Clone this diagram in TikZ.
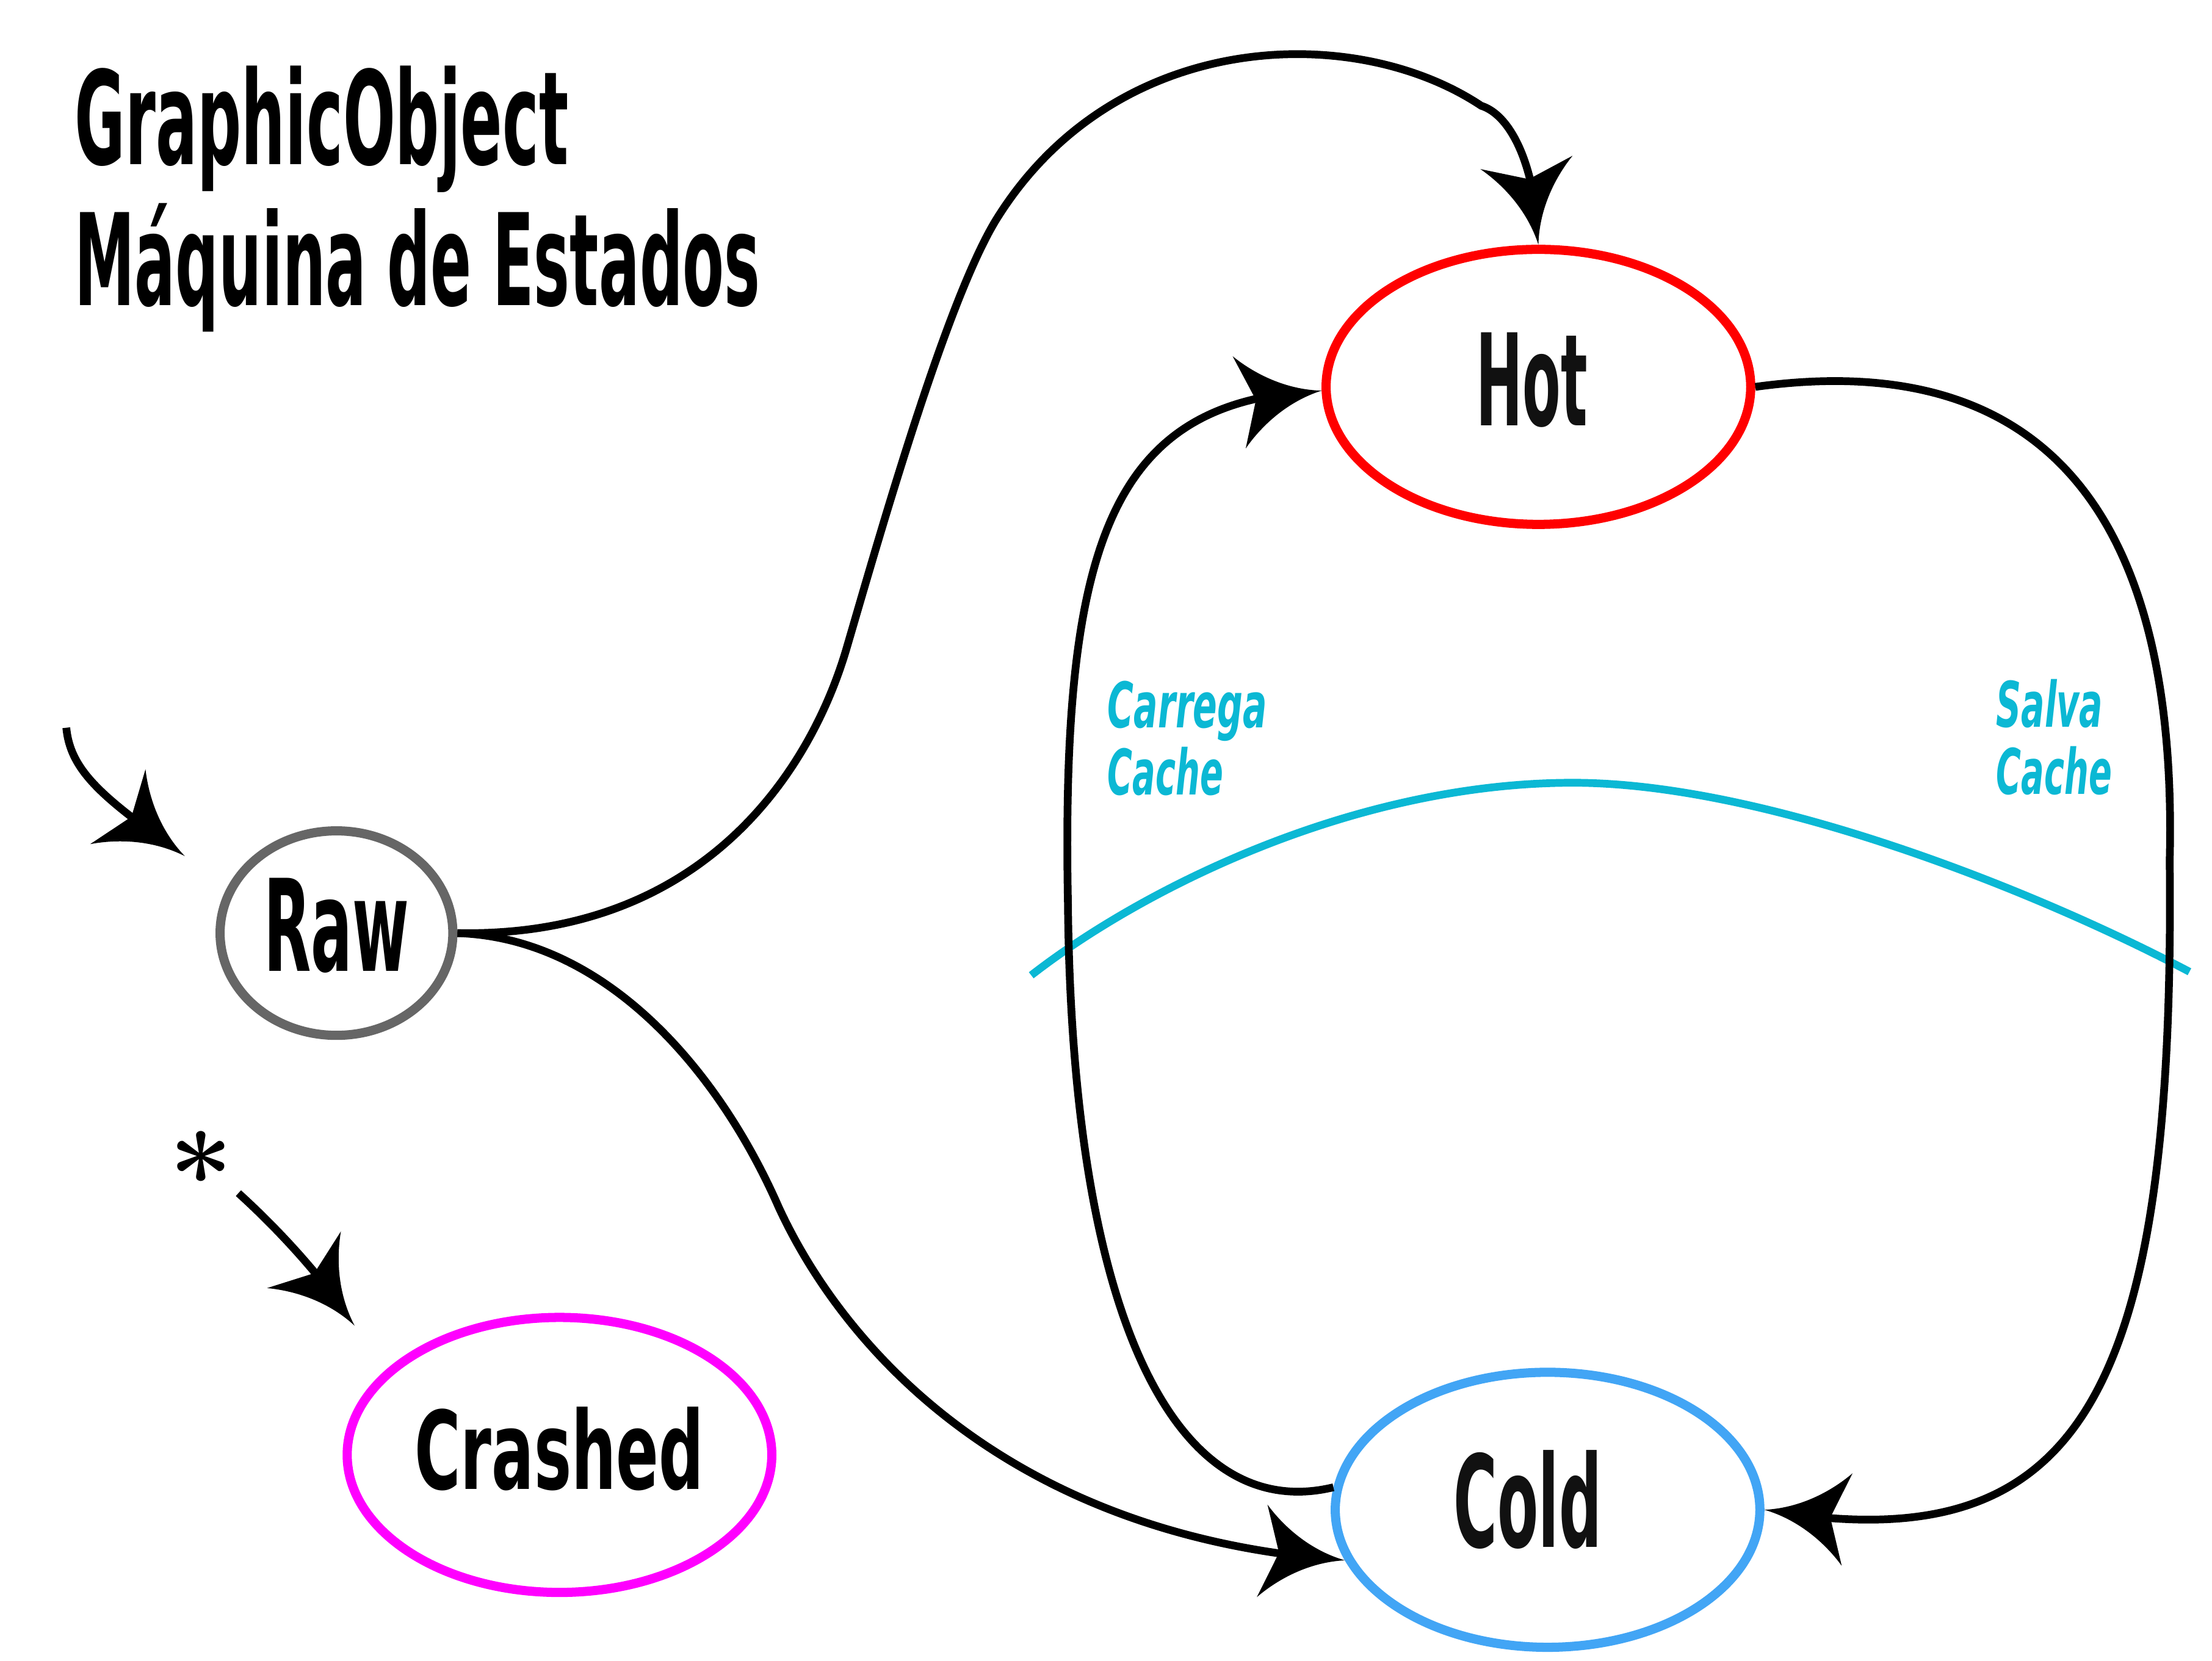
\documentclass[tikz,border=0pt]{standalone}
\usepackage{fontspec}
\usepackage{graphicx}
\usetikzlibrary{shapes.geometric,arrows.meta,bending}
\newfontfamily\dejavu{DejaVu Sans}
\definecolor{rawgray}{HTML}{666666}
\definecolor{hotred}{HTML}{FF0000}
\definecolor{coldblue}{HTML}{42A5F5}
\definecolor{crashmag}{HTML}{FF00FF}
\definecolor{cachecyan}{HTML}{0BB8D4}
\definecolor{nearblack}{HTML}{111111}

\newdimen\cstA \newdimen\cstB \newdimen\cstC
\pgfdeclarearrow{
  name = CStealth,
  defaults = {length=59bp, width=66bp, inset=12bp},
  parameters = {\the\pgfarrowlength,\the\pgfarrowwidth,\the\pgfarrowinset},
  setup code = {
    \pgfarrowssettipend{0pt}
    \cstB=-\pgfarrowlength
    \pgfarrowssetbackend{\cstB}
    \cstA=\cstB \advance\cstA by \pgfarrowinset \advance\cstA by 4bp
    \pgfarrowssetlineend{\cstA}
    \cstC=.5\pgfarrowwidth
    \pgfarrowshullpoint{0pt}{0pt}
    \pgfarrowsupperhullpoint{\cstB}{\cstC}
    \pgfarrowssavethe\pgfarrowlength
    \pgfarrowssavethe\pgfarrowwidth
    \pgfarrowssavethe\pgfarrowinset
  },
  drawing code = {
    \pgfpathmoveto{\pgfpointorigin}
    \pgfpathcurveto{\pgfpoint{-.4\pgfarrowlength}{.06\pgfarrowwidth}}{\pgfpoint{-.75\pgfarrowlength}{.26\pgfarrowwidth}}{\pgfpoint{-\pgfarrowlength}{.5\pgfarrowwidth}}
    \pgfpathlineto{\pgfpoint{-\pgfarrowlength+\pgfarrowinset}{0pt}}
    \pgfpathlineto{\pgfpoint{-\pgfarrowlength}{-.5\pgfarrowwidth}}
    \pgfpathcurveto{\pgfpoint{-.75\pgfarrowlength}{-.26\pgfarrowwidth}}{\pgfpoint{-.4\pgfarrowlength}{-.06\pgfarrowwidth}}{\pgfpointorigin}
    \pgfpathclose
    \pgfusepathqfill
  }
}

\newcommand\bigtxt[3]{\resizebox{#1}{\height}{\fontsize{#2}{#2}\dejavu\bfseries #3}}
\newcommand\cyantxt[2]{\resizebox{#1}{\height}{\fontsize{44.6bp}{44.6bp}\dejavu\bfseries\itshape #2}}

\tikzset{
  stateshape/.style={ellipse, inner sep=0pt, line width=6.5bp, fill=white},
  bigstate/.style={stateshape, minimum width=301bp, minimum height=195bp},
  smallstate/.style={stateshape, minimum width=165bp, minimum height=145bp},
  txt/.style={inner sep=0pt, anchor=base},
  conn/.style={line width=5.5bp, draw=black, -{CStealth[flex]}},
  cyanline/.style={line width=5.5bp, draw=cachecyan},
  cyanlabel/.style={inner sep=0pt, anchor=base west, text=cachecyan},
}

\begin{document}
\begin{tikzpicture}[x=1bp, y=-1bp]
\useasboundingbox (0,0) rectangle (1568,1177.7);
\fill[white] (0,0) rectangle (1568,1177.7);

% title
\node[inner sep=0pt, anchor=base west] (title1) at (52.8,116.8) {\bigtxt{350bp}{92bp}{GraphicObject}};
\node[inner sep=0pt, anchor=base west] (title2) at (52.8,216.4) {\bigtxt{486bp}{90.5bp}{Máquina de Estados}};

% states
\node[smallstate, draw=rawgray] (Raw) at (238.5,661.6) {};
\node[bigstate, draw=hotred] (Hot) at (1090.5,274.3) {};
\node[bigstate, draw=coldblue] (Cold) at (1097,1070.5) {};
\node[bigstate, draw=crashmag] (Crashed) at (396.6,1031.6) {};

\node[txt] (rawtxt) at (238.6,688.4) {\bigtxt{103bp}{90.5bp}{Raw}};
\node[txt, text=nearblack] (hottxt) at (1085.8,301.6) {\bigtxt{79bp}{90.5bp}{Hot}};
\node[txt, text=nearblack] (coldtxt) at (1083,1097) {\bigtxt{105bp}{90.5bp}{Cold}};
\node[txt] (crashtxt) at (396.4,1055.8) {\bigtxt{205bp}{76.8bp}{Crashed}};

% cache line and labels
\coordinate (cyA) at (731,691.5);
\coordinate (cyM) at (1115,555);
\coordinate (cyB) at (1552,689);
\draw[cyanline] (cyA) .. controls (810,630) and (960,555) .. (cyM)
  .. controls (1250,555) and (1440,630) .. (cyB);

\node[cyanlabel] (carrega) at (785,516) {\cyantxt{113bp}{Carrega}};
\node[cyanlabel] (cache1) at (785,563.6) {\cyantxt{82bp}{Cache}};
\node[cyanlabel] (salva) at (1415,515.6) {\cyantxt{75.5bp}{Salva}};
\node[cyanlabel] (cache2) at (1415,563.3) {\cyantxt{82bp}{Cache}};

% initial arrow
\coordinate (initS) at (47,516);
\coordinate (initT) at (131,607);
\draw[conn] (initS) .. controls (50,548) and (75,567) .. (initT);

% asterisk arrow
\node[inner sep=0pt, anchor=base, font=\fontsize{80bp}{80bp}\selectfont\bfseries] (ast) at (142.4,862) {*};
\coordinate (astS) at (169,846);
\coordinate (astT) at (251.4,940);
\draw[conn] (astS) .. controls (190,865) and (225,900) .. (astT);

% Raw -> Hot
\draw[conn] (Raw.east) .. controls (500,665) and (575,545) .. (600,460)
  .. controls (622,385) and (670,215) .. (706,156)
  .. controls (790,20) and (960,15) .. (1050,75)
  .. controls (1072,82) and (1089,120) .. (Hot.north);

% Raw -> Cold
\draw[conn] (Raw.east) .. controls (430,665) and (510,760) .. (552,856)
  .. controls (600,960) and (720,1090) .. (Cold.194);

% Cold -> Hot (left loop)
\draw[conn] (Cold.174) .. controls (840,1080) and (760,950) .. (757,640)
  .. controls (752,380) and (790,283) .. (Hot.181);

% Hot -> Cold (right loop)
\draw[conn] (Hot.east) .. controls (1420,250) and (1545,330) .. (1538,610)
  .. controls (1542,1000) and (1470,1108) .. (Cold.east);
\end{tikzpicture}
\end{document}
